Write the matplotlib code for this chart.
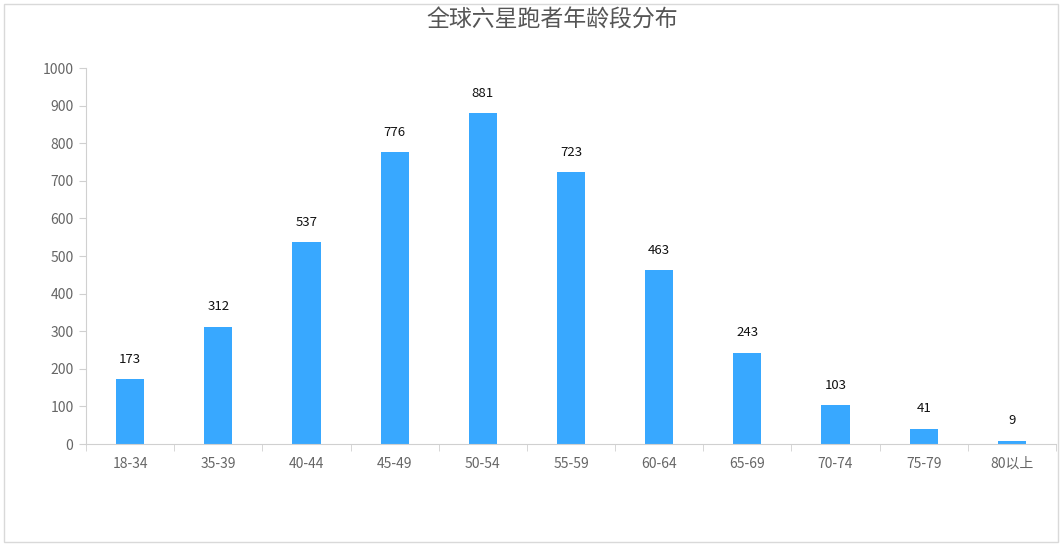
import matplotlib
matplotlib.use('Agg')
import matplotlib.pyplot as plt
import numpy as np
from matplotlib.patches import Rectangle

plt.rcParams['font.family'] = ['Noto Sans CJK SC', 'DejaVu Sans']

# data
age_groups = ['18-34', '35-39', '40-44', '45-49', '50-54', '55-59',
              '60-64', '65-69', '70-74', '75-79', '80以上']
runners = [173, 312, 537, 776, 881, 723, 463, 243, 103, 41, 9]
title = '全球六星跑者年龄段分布'

fig = plt.figure(figsize=(10.63, 5.48), dpi=100)
ax = fig.add_axes([86/1063, 1-444/548, 970/1063, 376/548])

# outer border of the chart box
fig.patches.append(Rectangle((4/1063, 6/548), 1054/1063, 538/548, transform=fig.transFigure,
                             fill=False, edgecolor='#d9d9d9', linewidth=1))

x = np.arange(len(age_groups))
ax.bar(x, runners, width=0.32, color='#38a8ff')
for xi, v in zip(x, runners):
    ax.annotate(str(v), (xi, v), xytext=(0, 9.5), textcoords='offset points',
                ha='center', va='bottom', fontsize=9.5, color='#111111')

ax.set_xlim(-0.5, len(age_groups) - 0.5)
ax.set_ylim(0, 1000)
ax.set_yticks(range(0, 1001, 100))
ax.set_xticks(x)
ax.set_xticklabels(age_groups)
ax.set_xticks(np.arange(-0.5, len(age_groups), 1), minor=True)
ax.tick_params(axis='x', which='major', length=0, pad=9, labelsize=10, labelcolor='#666666')
ax.tick_params(axis='x', which='minor', length=5, color='#d0d0d0')
ax.tick_params(axis='y', length=5, color='#d0d0d0', labelsize=10, labelcolor='#666666', pad=4)

for s in ['top', 'right']:
    ax.spines[s].set_visible(False)
for s in ['left', 'bottom']:
    ax.spines[s].set_color('#d0d0d0')

fig.text(552/1063, 1-20/548, title, ha='center', va='center', fontsize=16.5, color='#555555')

fig.savefig('out.png', dpi=100)
